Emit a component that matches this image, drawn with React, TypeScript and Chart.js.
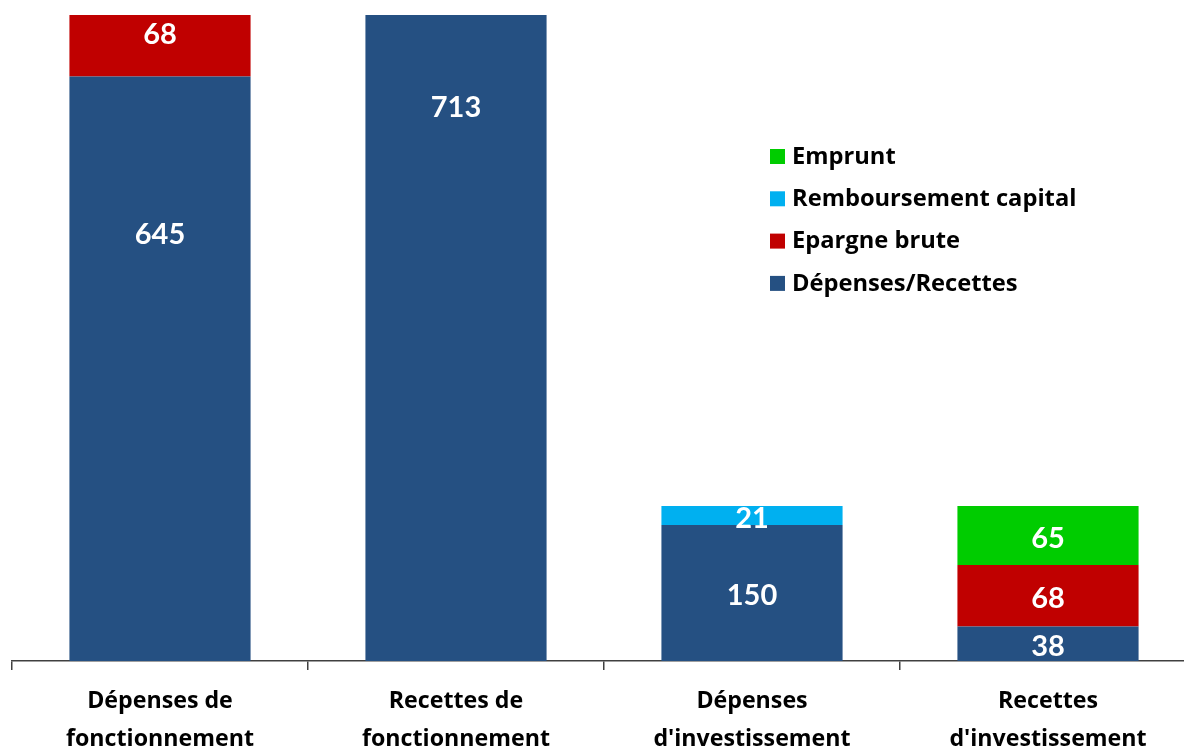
import React, { useEffect, useRef } from "react";
import { Chart, registerables } from "chart.js";

Chart.register(...registerables);

const categories: string[][] = [
  ["Dépenses de", "fonctionnement"],
  ["Recettes de", "fonctionnement"],
  ["Dépenses", "d'investissement"],
  ["Recettes", "d'investissement"],
];
const depensesRecettes = [645, 713, 150, 38];
const epargneBrute = [68, 0, 0, 68];
const remboursementCapital = [0, 0, 21, 0];
const emprunt = [0, 0, 0, 65];

const FONT = "'Open Sans', Lato, sans-serif";
const LABEL_FONT = "Lato, 'Open Sans', sans-serif";

// label anchor: fraction of the segment from its top (default centre)
const labelAnchors: Record<string, number> = {
  "0-0": 0.265,
  "0-1": 0.139,
  "1-0": 0.27,
};

const labelsPlugin = {
  id: "segLabels",
  afterDatasetsDraw(chart: any) {
    const ctx = chart.ctx;
    ctx.save();
    ctx.fillStyle = "#ffffff";
    ctx.font = `bold 29px ${LABEL_FONT}`;
    ctx.textAlign = "center";
    ctx.textBaseline = "middle";
    chart.data.datasets.forEach((ds: any, di: number) => {
      const meta = chart.getDatasetMeta(di);
      meta.data.forEach((el: any, i: number) => {
        const v = ds.data[i];
        if (!v) return;
        const top = Math.min(el.y, el.base);
        const h = Math.abs(el.base - el.y);
        const f = labelAnchors[`${di}-${i}`] ?? 0.5;
        ctx.fillText(String(v), el.x, top + h * f + 3);
      });
    });
    ctx.restore();
  },
};

const legendPlugin = {
  id: "customLegend",
  afterDraw(chart: any) {
    const ctx = chart.ctx;
    ctx.save();
    ctx.font = `bold 23.7px ${FONT}`;
    ctx.textBaseline = "middle";
    ctx.textAlign = "left";
    const ds = chart.data.datasets.slice().reverse();
    const x0 = 770;
    const y0 = 156;
    const gap = 42.3;
    ds.forEach((d: any, k: number) => {
      const y = y0 + k * gap;
      ctx.fillStyle = d.backgroundColor;
      ctx.fillRect(x0, y - 7, 15, 15);
      ctx.fillStyle = "#000000";
      ctx.fillText(d.label, x0 + 22, y + 1);
    });
    ctx.restore();
  },
};

export default function App() {
  const ref = useRef<HTMLCanvasElement>(null);
  useEffect(() => {
    document.body.style.overflow = "hidden";
    const chart = new Chart(ref.current!, {
      type: "bar",
      data: {
        labels: categories,
        datasets: [
          { label: "Dépenses/Recettes", data: depensesRecettes, backgroundColor: "#255082" },
          { label: "Epargne brute", data: epargneBrute, backgroundColor: "#C00000" },
          { label: "Remboursement capital", data: remboursementCapital, backgroundColor: "#00B0F0" },
          { label: "Emprunt", data: emprunt, backgroundColor: "#00CC00" },
        ],
      },
      options: {
        animation: false,
        responsive: false,
        maintainAspectRatio: false,
        layout: { padding: { left: 12, top: 15, right: 0, bottom: 0 } },
        datasets: { bar: { categoryPercentage: 1, barPercentage: 0.612 } },
        plugins: { legend: { display: false }, tooltip: { enabled: false } },
        scales: {
          x: {
            stacked: true,
            grid: {
              offset: true,
              drawOnChartArea: false,
              drawTicks: true,
              tickLength: 9,
              color: "#404040",
              lineWidth: 1.5,
            },
            border: { display: true, color: "#404040", width: 1.5 },
            ticks: {
              color: "#000000",
              font: { family: FONT, size: 23.2, weight: "bold", lineHeight: 1.62 },
              padding: 13,
              maxRotation: 0,
              autoSkip: false,
            },
            afterFit(scale: any) {
              scale.height = 85;
            },
          },
          y: {
            stacked: true,
            display: false,
            min: 0,
            max: 713,
          },
        },
      },
      plugins: [labelsPlugin, legendPlugin],
    });
    return () => chart.destroy();
  }, []);
  return (
    <div style={{ position: "fixed", left: 0, top: 0, width: "100vw", height: "100vh", overflow: "hidden", background: "#fff" }}>
      <div style={{ width: 1196, height: 746 }}>
        <canvas ref={ref} width={1196} height={746} style={{ display: "block" }} />
      </div>
    </div>
  );
}
